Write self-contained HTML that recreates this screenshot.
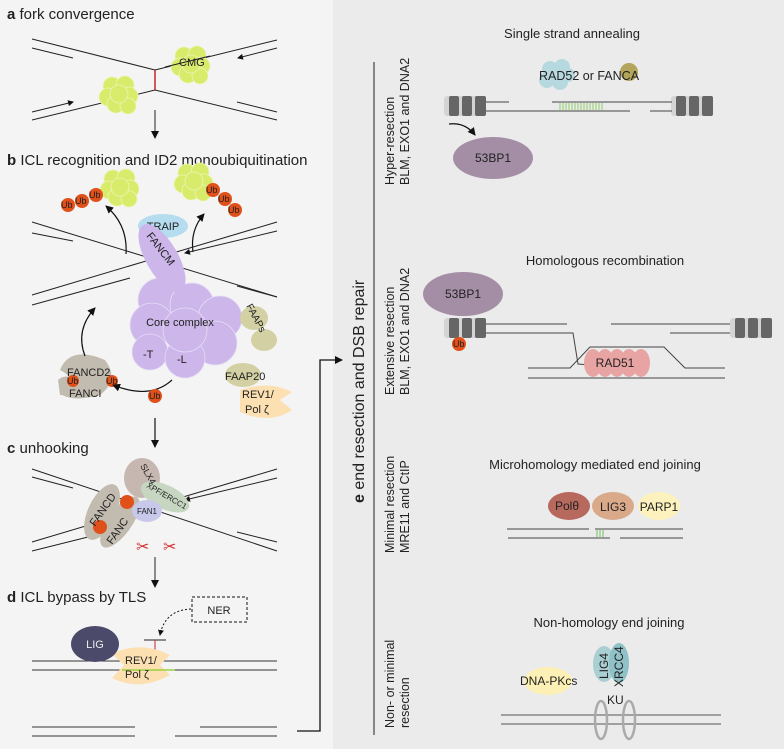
<!DOCTYPE html>
<html><head><meta charset="utf-8"><style>
html,body{margin:0;padding:0;background:#f4f4f4;}
svg{display:block;font-family:"Liberation Sans",sans-serif;}
</style></head><body>
<svg width="784" height="749" viewBox="0 0 784 749" xmlns="http://www.w3.org/2000/svg">
<defs>
<marker id="ah" markerWidth="8" markerHeight="8" refX="7" refY="4" orient="auto" markerUnits="userSpaceOnUse"><path d="M0,0 L8,4 L0,8 z" fill="#111"/></marker>
<marker id="sa" markerWidth="6" markerHeight="6" refX="5" refY="3" orient="auto" markerUnits="userSpaceOnUse"><path d="M0,0 L6,3 L0,6 z" fill="#111"/></marker>
<g id="cmg" fill="#d8eb6a" stroke="#eef5b8" stroke-width="0.8">
<circle cx="-7" cy="-8" r="9"/><circle cx="6" cy="-9" r="9"/><circle cx="-11" cy="3" r="9"/><circle cx="10" cy="2" r="9"/><circle cx="-3" cy="10" r="9"/><circle cx="9" cy="12" r="8"/><circle cx="0" cy="0" r="9"/>
</g>
<g id="nuc">
<rect x="0" y="-10" width="10" height="20" rx="3" fill="#d4d4d4"/><rect x="5" y="-10" width="10" height="20" rx="2" fill="#666"/>
<rect x="15" y="-10" width="4" height="20" fill="#d4d4d4"/><rect x="18" y="-10" width="10" height="20" rx="2" fill="#666"/>
<rect x="28" y="-10" width="4" height="20" fill="#d4d4d4"/><rect x="31" y="-10" width="11" height="20" rx="2" fill="#666"/>
</g>
</defs>
<rect x="0" y="0" width="333" height="749" fill="#f4f4f4"/>
<rect x="333" y="0" width="451" height="749" fill="#ebebeb"/>

<g font-size="15" fill="#222">
<text x="7" y="19"><tspan font-weight="bold">a</tspan>  fork convergence</text>
<text x="7" y="165"><tspan font-weight="bold">b</tspan>  ICL recognition and ID2 monoubiquitination</text>
<text x="7" y="453"><tspan font-weight="bold">c</tspan>  unhooking</text>
<text x="7" y="602"><tspan font-weight="bold">d</tspan>  ICL bypass by TLS</text>
</g>

<!-- a -->
<g stroke="#222" stroke-width="1" fill="none">
<line x1="32" y1="39" x2="155" y2="70"/><line x1="32" y1="48" x2="73" y2="58"/>
<line x1="155" y1="70" x2="277" y2="40"/><line x1="277" y1="48" x2="238" y2="58" marker-end="url(#sa)"/>
<line x1="155" y1="90" x2="32" y2="120"/><line x1="32" y1="112" x2="73" y2="102" marker-end="url(#sa)"/>
<line x1="155" y1="90" x2="277" y2="120"/><line x1="237" y1="102" x2="277" y2="112"/>
<line x1="155" y1="110" x2="155" y2="138" marker-end="url(#ah)"/>
</g>
<line x1="155" y1="70" x2="155" y2="90" stroke="#c0282c" stroke-width="1.5"/>
<use href="#cmg" x="191" y="64"/><use href="#cmg" x="119" y="94"/>
<line x1="165" y1="67" x2="210" y2="56" stroke="#222"/>
<text x="179" y="66" font-size="11" fill="#222">CMG</text>

<!-- b -->
<use href="#cmg" x="120" y="187"/><use href="#cmg" x="194" y="181"/>
<g fill="#e0501a"><circle cx="68" cy="205" r="7"/><circle cx="82" cy="201" r="7"/><circle cx="96" cy="195" r="7"/><circle cx="213" cy="190" r="7"/><circle cx="225" cy="199" r="7"/><circle cx="235" cy="210" r="7"/></g>
<g font-size="9" fill="#222"><text x="61" y="208">Ub</text><text x="75" y="204">Ub</text><text x="89" y="198">Ub</text><text x="206" y="193">Ub</text><text x="218" y="202">Ub</text><text x="228" y="213">Ub</text></g>
<g stroke="#111" stroke-width="1.2" fill="none">
<path d="M126,254 Q128,225 106,206" marker-end="url(#ah)"/>
<path d="M193,252 Q190,230 204,214" marker-end="url(#ah)"/>
</g>
<ellipse cx="163" cy="226" rx="25" ry="12" fill="#b5dcef"/>
<text x="163" y="230" font-size="11" text-anchor="middle" fill="#222">TRAIP</text>
<g stroke="#222" stroke-width="1" fill="none">
<line x1="32" y1="222" x2="277" y2="297"/><line x1="32" y1="233" x2="73" y2="241"/>
<line x1="277" y1="222" x2="32" y2="295"/><line x1="277" y1="231" x2="185" y2="253" marker-end="url(#sa)"/>
<line x1="32" y1="305" x2="130" y2="278"/><line x1="237" y1="286" x2="277" y2="297"/>
</g>
<g fill="#ccb6ea" stroke="#e6dcf5" stroke-width="0.8">
<circle cx="160" cy="300" r="22"/><circle cx="192" cy="305" r="22"/><circle cx="220" cy="318" r="22"/><circle cx="152" cy="325" r="22"/><circle cx="215" cy="343" r="22"/><circle cx="150" cy="352" r="18"/><circle cx="185" cy="358" r="20"/><circle cx="185" cy="330" r="22"/>
</g>
<ellipse cx="162" cy="258" rx="16" ry="38" transform="rotate(-30 162 258)" fill="#ccb6ea"/>
<text transform="translate(146,236) rotate(52)" font-size="11" fill="#222">FANCM</text>
<text x="180" y="326" font-size="11" text-anchor="middle" fill="#222">Core complex</text>
<text x="143" y="358" font-size="11" fill="#222">-T</text><text x="177" y="363" font-size="11" fill="#222">-L</text>
<ellipse cx="254" cy="318" rx="14" ry="12" fill="#d3d0a4"/><ellipse cx="264" cy="340" rx="13" ry="11" fill="#d3d0a4"/><ellipse cx="243" cy="375" rx="18" ry="12" fill="#d3d0a4"/>
<text transform="translate(246,306) rotate(62)" font-size="10" fill="#222">FAAPs</text>
<text x="225" y="380" font-size="11" fill="#222">FAAP20</text>
<path d="M240,390 Q270,380 292,392 L280,400 L292,410 Q270,425 240,412 Z" fill="#fde0b2"/>
<text x="242" y="398" font-size="11" fill="#222">REV1/</text><text x="245" y="413" font-size="11" fill="#222">Pol ζ</text>
<path d="M60,370 Q70,345 105,360 Q120,380 100,395 Q75,402 62,395 Q80,380 60,370Z" fill="#c2bcb0"/>
<path d="M58,380 Q65,372 85,382 Q90,390 80,395 L60,395 Z" fill="#c2bcb0"/>
<circle cx="73" cy="381" r="6" fill="#e0501a"/><circle cx="112" cy="381" r="6" fill="#e0501a"/>
<text x="67" y="376" font-size="11" fill="#222">FANCD2</text><text x="67" y="384" font-size="9" fill="#222">Ub</text><text x="106" y="384" font-size="9" fill="#222">Ub</text><text x="69" y="397" font-size="11" fill="#222">FANCI</text>
<g stroke="#111" stroke-width="1.2" fill="none">
<path d="M85,356 Q75,330 95,308" marker-end="url(#ah)"/>
<path d="M172,380 Q150,400 113,385" marker-end="url(#ah)"/>
<line x1="155" y1="418" x2="155" y2="447" marker-end="url(#ah)"/>
</g>
<circle cx="155" cy="396" r="7" fill="#e0501a"/><text x="149" y="399" font-size="9" fill="#222">Ub</text>

<!-- c -->
<g stroke="#222" stroke-width="1" fill="none">
<line x1="32" y1="469" x2="277" y2="551"/><line x1="32" y1="477" x2="73" y2="488"/>
<line x1="277" y1="469" x2="32" y2="542"/><line x1="277" y1="478" x2="185" y2="500" marker-end="url(#sa)"/>
<line x1="32" y1="551" x2="100" y2="534"/><line x1="237" y1="532" x2="277" y2="542"/>
<line x1="155" y1="557" x2="155" y2="587" marker-end="url(#ah)"/>
</g>
<ellipse cx="142" cy="478" rx="18" ry="20" fill="#c6b8b0"/>
<ellipse cx="102" cy="512" rx="14" ry="30" transform="rotate(25 102 512)" fill="#c2bcb0"/>
<ellipse cx="120" cy="522" rx="12" ry="30" transform="rotate(35 120 522)" fill="#c2bcb0"/>
<ellipse cx="165" cy="497" rx="26" ry="12" transform="rotate(25 165 497)" fill="#c6d6c0"/>
<ellipse cx="147" cy="511" rx="15" ry="11" fill="#c8c8ea"/>
<circle cx="127" cy="502" r="7" fill="#e0501a"/><circle cx="100" cy="527" r="7" fill="#e0501a"/>
<text x="137" y="514" font-size="8" fill="#222">FAN1</text>
<text transform="translate(140,466) rotate(60)" font-size="9" fill="#222">SLX4</text>
<text transform="translate(146,487) rotate(30)" font-size="8" fill="#222">XPF/ERCC1</text>
<text transform="translate(95,527) rotate(-55)" font-size="11" fill="#222">FANCD</text>
<text transform="translate(112,545) rotate(-55)" font-size="11" fill="#222">FANC</text>
<g font-size="16" fill="#d03030"><text x="136" y="552">✂</text><text x="163" y="552">✂</text></g>

<!-- d -->
<rect x="192" y="597" width="55" height="25" fill="none" stroke="#111" stroke-dasharray="3,2"/>
<text x="219" y="614" font-size="11" text-anchor="middle" fill="#222">NER</text>
<path d="M191,609 Q165,610 160,635" stroke="#111" stroke-dasharray="2,2" fill="none" marker-end="url(#sa)"/>
<line x1="144" y1="640" x2="166" y2="640" stroke="#222"/><line x1="155" y1="640" x2="155" y2="652" stroke="#c0282c"/>
<g stroke="#333" stroke-width="1"><line x1="32" y1="661" x2="277" y2="661"/><line x1="32" y1="670" x2="277" y2="670"/></g>
<path d="M112,654 Q140,640 170,655 L160,665 L170,675 Q140,692 112,678 L124,665 Z" fill="#fde0b2"/>
<line x1="122" y1="670" x2="175" y2="670" stroke="#9bd040" stroke-width="1.5"/>
<ellipse cx="95" cy="644" rx="24" ry="18" fill="#4b4a6b"/>
<text x="95" y="648" font-size="11" text-anchor="middle" fill="#eee">LIG</text>
<text x="125" y="664" font-size="11" fill="#222">REV1/</text><text x="125" y="678" font-size="11" fill="#222">Pol ζ</text>
<g stroke="#333" stroke-width="1"><line x1="32" y1="727" x2="135" y2="727"/><line x1="32" y1="736" x2="135" y2="736"/><line x1="200" y1="727" x2="277" y2="727"/><line x1="175" y1="736" x2="277" y2="736"/></g>
<path d="M297,731 L320,731 L320,360 L342,360" stroke="#111" stroke-width="1.3" fill="none" marker-end="url(#ah)"/>

<!-- e -->
<text transform="translate(364,503) rotate(-90)" font-size="16" fill="#222"><tspan font-weight="bold">e</tspan>  end resection and  DSB repair</text>
<line x1="374" y1="62" x2="374" y2="735" stroke="#222"/>
<g font-size="12.5" fill="#222">
<text transform="translate(394,185) rotate(-90)">Hyper-resection</text><text transform="translate(409,185) rotate(-90)">BLM, EXO1 and DNA2</text>
<text transform="translate(394,395) rotate(-90)">Extensive  resection</text><text transform="translate(409,395) rotate(-90)">BLM, EXO1 and DNA2</text>
<text transform="translate(394,553) rotate(-90)">Minimal resection</text><text transform="translate(409,553) rotate(-90)">MRE11 and CtIP</text>
<text transform="translate(394,728) rotate(-90)">Non- or minimal</text><text transform="translate(409,728) rotate(-90)">resection</text>
</g>
<g font-size="13" fill="#222" text-anchor="middle">
<text x="572" y="38">Single strand annealing</text>
<text x="605" y="265">Homologous recombination</text>
<text x="595" y="469">Microhomology mediated end joining</text>
<text x="609" y="627">Non-homology end joining</text>
</g>
<!-- SSA -->
<use href="#nuc" x="444" y="106"/><use href="#nuc" x="671" y="106"/>
<g stroke="#444" stroke-width="1"><line x1="486" y1="102" x2="509" y2="102"/><line x1="486" y1="111" x2="630" y2="111"/><line x1="552" y1="102" x2="672" y2="102"/><line x1="650" y1="111" x2="672" y2="111"/></g>
<g stroke="#8ccc6a" stroke-width="1">
<path d="M560,103 v7 M563,103 v7 M566,103 v7 M569,103 v7 M572,103 v7 M575,103 v7 M578,103 v7 M581,103 v7 M584,103 v7 M587,103 v7 M590,103 v7 M593,103 v7 M596,103 v7 M599,103 v7 M602,103 v7"/></g>
<g fill="#b6d9df"><circle cx="550" cy="69" r="8"/><circle cx="562" cy="67" r="8"/><circle cx="547" cy="80" r="8"/><circle cx="560" cy="82" r="8"/><circle cx="568" cy="75" r="7"/></g>
<circle cx="629" cy="72" r="9" fill="#b3a55b"/>
<text x="539" y="80" font-size="12.5" fill="#222">RAD52  or  FANCA</text>
<path d="M449,124 Q465,122 475,135" stroke="#111" stroke-width="1.3" fill="none" marker-end="url(#ah)"/>
<ellipse cx="493" cy="158" rx="40" ry="21" fill="#a48ea6"/><text x="493" y="162" font-size="12" text-anchor="middle" fill="#222">53BP1</text>
<!-- HR -->
<ellipse cx="463" cy="294" rx="40" ry="22" fill="#a48ea6"/><text x="463" y="298" font-size="12" text-anchor="middle" fill="#222">53BP1</text>
<use href="#nuc" x="444" y="328"/><use href="#nuc" x="730" y="328"/>
<circle cx="459" cy="344" r="7" fill="#e0501a"/><text x="453" y="347" font-size="9" fill="#222">Ub</text>
<g stroke="#444" stroke-width="1" fill="none"><line x1="486" y1="324" x2="567" y2="324"/><line x1="611" y1="324" x2="730" y2="324"/><line x1="670" y1="333" x2="730" y2="333"/>
<path d="M486,333 L573,333 L578,364 L590,365"/><path d="M528,368 L570,368 L590,347 L664,347 L685,368 L725,368"/><line x1="528" y1="378" x2="725" y2="378"/></g>
<g fill="#e8a3a3"><ellipse cx="593" cy="363" rx="9" ry="14"/><ellipse cx="605" cy="363" rx="9" ry="14"/><ellipse cx="617" cy="363" rx="9" ry="14"/><ellipse cx="629" cy="363" rx="9" ry="14"/><ellipse cx="641" cy="363" rx="9" ry="14"/></g>
<text x="615" y="367" font-size="12" text-anchor="middle" fill="#222">RAD51</text>
<!-- MMEJ -->
<ellipse cx="569" cy="506" rx="21" ry="14" fill="#b8695e"/><ellipse cx="613" cy="506" rx="21" ry="14" fill="#d9a98a"/><ellipse cx="659" cy="506" rx="21" ry="14" fill="#fdf2bd"/>
<g font-size="12" fill="#222" text-anchor="middle"><text x="567" y="510">Polθ</text><text x="613" y="511">LIG3</text><text x="659" y="511">PARP1</text></g>
<g stroke="#444" stroke-width="1"><line x1="507" y1="529" x2="589" y2="529"/><line x1="595" y1="529" x2="683" y2="529"/><line x1="508" y1="538" x2="610" y2="538"/><line x1="620" y1="538" x2="683" y2="538"/></g>
<g stroke="#6cc05a"><path d="M597,530 v7 M600,530 v7 M603,530 v7"/></g>
<!-- NHEJ -->
<ellipse cx="548" cy="681" rx="24" ry="14" fill="#fdf0b5"/><text x="520" y="685" font-size="12" fill="#222">DNA-PKcs</text>
<ellipse cx="604" cy="664" rx="11" ry="18" fill="#a9cfd3"/><ellipse cx="619" cy="663" rx="10" ry="20" fill="#8fc1c7"/>
<text transform="translate(608,679) rotate(-90)" font-size="12" fill="#222">LIG4</text>
<text transform="translate(623,687) rotate(-90)" font-size="12" fill="#222">XRCC4</text>
<text x="607" y="704" font-size="12" fill="#222">KU</text>
<g stroke="#555" stroke-width="1"><line x1="501" y1="715" x2="721" y2="715"/><line x1="501" y1="724" x2="721" y2="724"/></g>
<g fill="none" stroke="#aaa" stroke-width="2.5"><ellipse cx="601" cy="720" rx="6" ry="19"/><ellipse cx="629" cy="720" rx="6" ry="19"/></g>
</svg>
</body></html>
